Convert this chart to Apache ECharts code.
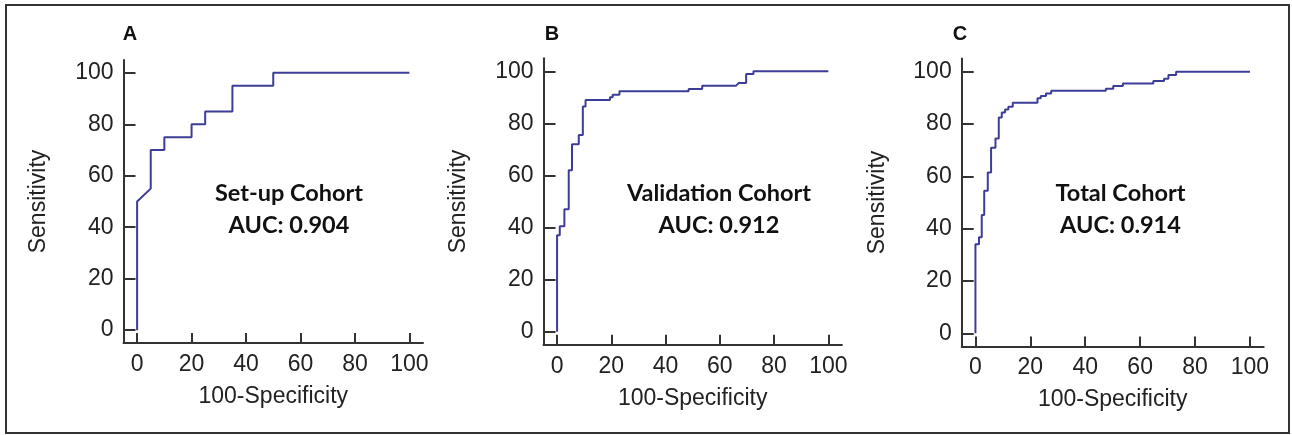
<!DOCTYPE html>
<html>
<head>
    <meta charset="utf-8">
    <title>ROC curves</title>
    <script src="https://cdn.jsdelivr.net/npm/echarts@6/dist/echarts.min.js"></script>
    <style>
        body { margin: 0; background: #fff; }
    </style>
</head>
<body>
<div id="main" style="width: 1292px;height:435px;"></div>
<script type="text/javascript">
// ROC points: [100-Specificity, Sensitivity]
var setupRoc = [[0,0],[0,50],[5,55],[5,70],[10,70],[10,75],[20,75],[20,80],[25,80],[25,85],
    [35,85],[35,95],[50,95],[50,100],[100,100]];
var validationRoc = [[0,0],[0,37],[1,37],[1,40.5],[2.7,40.5],[2.7,47],[4.3,47],[4.3,62],[5.5,62],
    [5.5,72],[8,72],[8,75.5],[9.5,75.5],[9.5,86.5],[10.5,86.5],[10.5,89],[19.5,89],[19.5,90],
    [20.5,90],[20.5,91],[23,91],[23,92.3],[48.5,92.3],[48.5,93.2],[53.5,93.2],[53.5,94.5],
    [66,94.5],[67,95.5],[69.7,95.5],[69.7,99],[72.4,99],[72.4,100],[100,100]];
var totalRoc = [[0,0],[0,34],[1.3,34],[1.3,36.7],[2.3,36.7],[2.3,45.2],[3.2,45.2],[3.2,54.5],
    [4.5,54.5],[4.5,61.5],[5.7,61.5],[5.7,70.9],[7.3,70.9],[7.3,74.5],[8.5,74.5],[8.5,82.5],
    [9.6,82.5],[9.6,84.4],[10.8,84.4],[10.8,85.5],[12,85.5],[12,86.6],[13.6,86.6],[13.6,88.1],
    [22.6,88.1],[22.6,89.8],[23.8,89.8],[23.8,90.7],[25.7,90.7],[25.7,91.7],[27.6,91.7],[27.6,92.7],
    [47.5,92.7],[47.5,93.5],[50.2,93.5],[50.2,94.5],[53.7,94.5],[53.7,95.5],[64.8,95.5],[64.8,96.4],
    [68.7,96.4],[68.7,97.3],[70.3,97.3],[70.3,98.7],[73.1,98.7],[73.1,100],[100,100]];

var tickValues = [0, 20, 40, 60, 80, 100];
var panelLetters = ['A', 'B', 'C'];
var cohortNames = ['Set-up Cohort', 'Validation Cohort', 'Total Cohort'];
var aucLabels = ['AUC: 0.904', 'AUC: 0.912', 'AUC: 0.914'];
var rocData = [setupRoc, validationRoc, totalRoc];

// panel geometry
var grids = [
    {left: 123.5, top: 60, width: 299.5, height: 283},
    {left: 543.5, top: 58.3, width: 298.4, height: 286.4},
    {left: 961.7, top: 58.6, width: 302, height: 287.8}
];
var letterPos = [[130, 34], [552, 34], [960, 34]];
var notePos = [[289, 193], [719, 193], [1120.5, 193]];

var axisColor = '#333';
var lineColor = '#3d3d99';
var labelFont = '"Liberation Sans", Arial, sans-serif';
var noteFont = 'Lato, "Open Sans", sans-serif';

function makeAxis(isX, idx) {
    return {
        type: 'value',
        gridIndex: idx,
        min: -5,
        max: 105,
        name: isX ? '100-Specificity' : 'Sensitivity',
        nameLocation: 'middle',
        nameGap: isX ? 42 : 73,
        nameTextStyle: {fontFamily: labelFont, fontSize: 23, color: '#222'},
        axisLine: {show: true, onZero: false, lineStyle: {color: axisColor, width: 2}},
        axisTick: {show: true, inside: true, length: isX ? 10 : 12, customValues: tickValues,
            lineStyle: {color: axisColor, width: 2}},
        axisLabel: {show: true, customValues: tickValues, margin: isX ? 10 : 10,
            fontFamily: labelFont, fontSize: 23, color: '#222'},
        splitLine: {show: false}
    };
}

var myChart = echarts.init(document.getElementById('main'));

var option = {
    backgroundColor: '#fff',
    animation: false,
    grid: grids,
    xAxis: [0, 1, 2].map(function (i) { return makeAxis(true, i); }),
    yAxis: [0, 1, 2].map(function (i) { return makeAxis(false, i); }),
    series: rocData.map(function (d, i) {
        return {
            type: 'line',
            xAxisIndex: i,
            yAxisIndex: i,
            data: d,
            symbol: 'none',
            lineStyle: {color: lineColor, width: 2},
            itemStyle: {color: lineColor}
        };
    }),
    graphic: [
        {type: 'rect', shape: {x: 6, y: 5, width: 1283, height: 428},
            style: {fill: 'none', stroke: axisColor, lineWidth: 2}}
    ]
};

for (var i = 0; i < 3; i++) {
    option.graphic.push({type: 'text', style: {x: letterPos[i][0], y: letterPos[i][1], text: panelLetters[i],
        align: 'center', verticalAlign: 'middle', font: 'bold 20px ' + labelFont, fill: '#111'}});
    option.graphic.push({type: 'text', style: {x: notePos[i][0], y: notePos[i][1], text: cohortNames[i],
        align: 'center', verticalAlign: 'middle', font: 'bold 23.5px ' + noteFont, fill: '#111'}});
    option.graphic.push({type: 'text', style: {x: notePos[i][0], y: notePos[i][1] + 32, text: aucLabels[i],
        align: 'center', verticalAlign: 'middle', font: 'bold 23.5px ' + noteFont, fill: '#111'}});
}

myChart.setOption(option);
</script>
</body>
</html>
